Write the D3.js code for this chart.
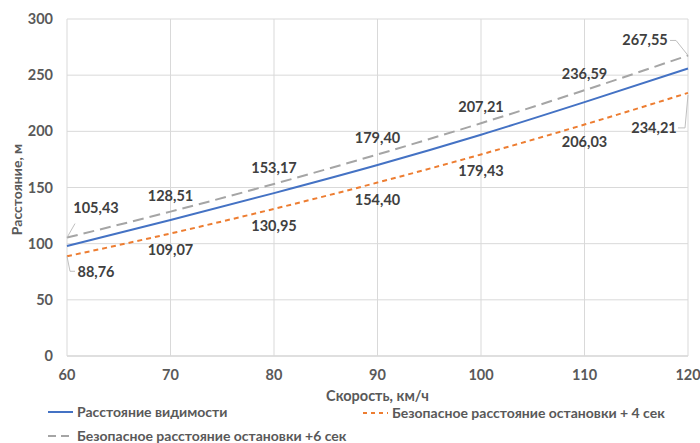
<!DOCTYPE html>
<html>
<head>
<meta charset="utf-8">
<script src="https://cdn.jsdelivr.net/npm/d3@7"></script>
<style>
  body { margin: 0; background: #fff; }
  text { font-family: Lato, "Open Sans", sans-serif; font-weight: bold; fill: #595959; }
</style>
</head>
<body>
<div id="chart"></div>
<script>
var speeds = [60, 70, 80, 90, 100, 110, 120];
var visibility = [98, 121, 145, 170, 197, 226, 256];
var stop4 = [88.76, 109.07, 130.95, 154.40, 179.43, 206.03, 234.21];
var stop6 = [105.43, 128.51, 153.17, 179.40, 207.21, 236.59, 267.55];
var yTicks = [0, 50, 100, 150, 200, 250, 300];
var seriesNames = ["Расстояние видимости", "Безопасное расстояние остановки + 4 сек", "Безопасное расстояние остановки +6 сек"];

var fmt = function (v) { return v.toFixed(2).replace(".", ","); };

var width = 700, height = 443;
var margin = {top: 19, right: 12, bottom: 87, left: 67};

var svg = d3.select("#chart").append("svg")
    .attr("width", width)
    .attr("height", height);

var x = d3.scaleLinear().domain([60, 120]).range([margin.left, width - margin.right]);
var y = d3.scaleLinear().domain([0, 300]).range([height - margin.bottom, margin.top]);

// grid
svg.append("g").selectAll("line")
    .data(yTicks)
    .enter().append("line")
    .attr("x1", x(60)).attr("x2", x(120))
    .attr("y1", function (d) { return y(d); })
    .attr("y2", function (d) { return y(d); })
    .style("stroke", function (d) { return d === 0 ? "#bfbfbf" : "#d9d9d9"; })
    .style("stroke-width", 1);

svg.append("g").selectAll("line")
    .data(speeds)
    .enter().append("line")
    .attr("x1", function (d) { return x(d); })
    .attr("x2", function (d) { return x(d); })
    .attr("y1", y(0)).attr("y2", y(300))
    .style("stroke", "#d9d9d9")
    .style("stroke-width", 1);

// tick labels
svg.append("g").selectAll("text")
    .data(yTicks)
    .enter().append("text")
    .attr("x", x(60) - 14)
    .attr("y", function (d) { return y(d) + 5; })
    .attr("text-anchor", "end")
    .style("font-size", "14.5px")
    .text(function (d) { return d; });

svg.append("g").selectAll("text")
    .data(speeds)
    .enter().append("text")
    .attr("x", function (d) { return x(d); })
    .attr("y", y(0) + 24)
    .attr("text-anchor", "middle")
    .style("font-size", "14.5px")
    .text(function (d) { return d; });

// axis titles
svg.append("text")
    .attr("x", (x(60) + x(120)) / 2)
    .attr("y", y(0) + 45)
    .attr("text-anchor", "middle")
    .style("font-size", "14.5px")
    .text("Скорость, км/ч");

svg.append("text")
    .attr("transform", "translate(22," + (y(150) + 2) + ") rotate(-90)")
    .attr("text-anchor", "middle")
    .style("font-size", "14px")
    .text("Расстояние, м");

// lines
var line = d3.line()
    .x(function (d, i) { return x(speeds[i]); })
    .y(function (d) { return y(d); })
    .curve(d3.curveMonotoneX);

var series = [
    {values: visibility, color: "#4472C4", dash: null},
    {values: stop4, color: "#ED7D31", dash: "5,4"},
    {values: stop6, color: "#A5A5A5", dash: "11,6"}
];

series.forEach(function (s) {
    svg.append("path")
        .datum(s.values)
        .attr("d", line)
        .style("fill", "none")
        .style("stroke", s.color)
        .style("stroke-width", 2)
        .style("stroke-dasharray", s.dash);
});

// data labels
function addLabels(values, dy, first, last) {
    svg.append("g").selectAll("text")
        .data(values)
        .enter().append("text")
        .attr("x", function (d, i) {
            if (i === 0) return x(speeds[i]) + first[0];
            if (i === values.length - 1) return x(speeds[i]) + last[0];
            return x(speeds[i]);
        })
        .attr("y", function (d, i) {
            if (i === 0) return y(d) + first[1];
            if (i === values.length - 1) return y(d) + last[1];
            return y(d) + dy;
        })
        .attr("text-anchor", "middle")
        .style("font-size", "14.5px")
        .style("fill", "#404040")
        .text(function (d) { return fmt(d); });
}
addLabels(stop6, -11, [29, -25], [-43, -10]);
addLabels(stop4, 22, [29, 21], [-34, 40]);

// leader lines
var leader = d3.line();
var i0 = 0, iN = speeds.length - 1;
[
    [[x(speeds[i0]), y(stop6[i0])], [x(speeds[i0]) + 8, y(stop6[i0]) - 14]],
    [[x(speeds[iN]) - 18, y(stop6[iN]) - 15], [x(speeds[iN]) - 12, y(stop6[iN]) - 15], [x(speeds[iN]), y(stop6[iN])]],
    [[x(speeds[i0]), y(stop4[i0])], [x(speeds[i0]) + 3, y(stop4[i0]) + 15], [x(speeds[i0]) + 8, y(stop4[i0]) + 15]],
    [[x(speeds[iN]) - 10, y(stop4[iN]) + 35], [x(speeds[iN]) - 3, y(stop4[iN]) + 35], [x(speeds[iN]), y(stop4[iN]) + 2]]
].forEach(function (pts) {
    svg.append("path")
        .attr("d", leader(pts))
        .style("fill", "none")
        .style("stroke", "#bfbfbf")
        .style("stroke-width", 1);
});

// legend
var legendItems = [
    {name: seriesNames[0], color: "#4472C4", dash: null, lx: 48, ly: 412},
    {name: seriesNames[1], color: "#ED7D31", dash: "4,4", lx: 363, ly: 413},
    {name: seriesNames[2], color: "#A5A5A5", dash: "8,5", lx: 48, ly: 436}
];
var legend = svg.append("g").selectAll("g")
    .data(legendItems)
    .enter().append("g");
legend.append("line")
    .attr("x1", function (d) { return d.lx; })
    .attr("x2", function (d) { return d.lx + 25; })
    .attr("y1", function (d) { return d.ly; })
    .attr("y2", function (d) { return d.ly; })
    .style("stroke", function (d) { return d.color; })
    .style("stroke-width", 2)
    .style("stroke-dasharray", function (d) { return d.dash; });
legend.append("text")
    .attr("x", function (d) { return d.lx + 29; })
    .attr("y", function (d) { return d.ly + 5; })
    .style("font-size", "14px")
    .text(function (d) { return d.name; });
</script>
</body>
</html>
